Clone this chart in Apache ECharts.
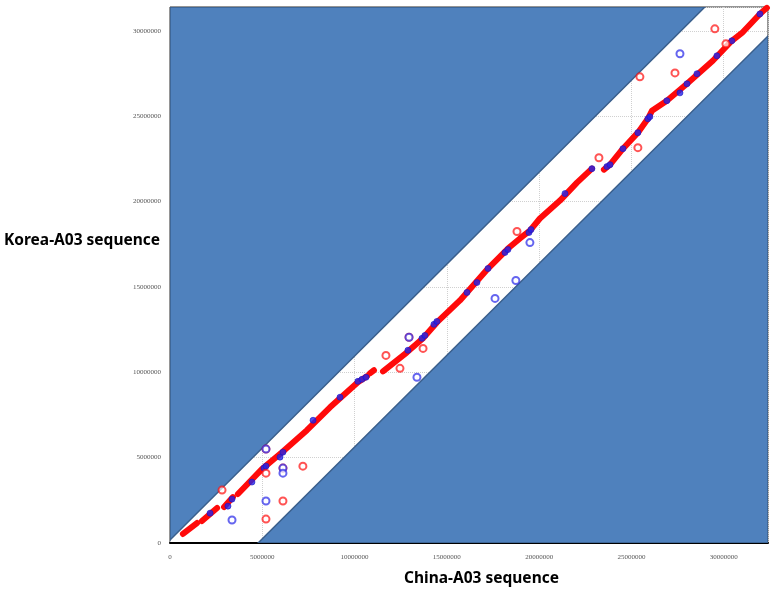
<!DOCTYPE html>
<html>
<head>
<meta charset="utf-8">
<script src="https://cdn.jsdelivr.net/npm/echarts@6/dist/echarts.min.js"></script>
<style>
html,body{margin:0;padding:0;background:#fff;}
#chart{width:772px;height:590px;}
</style>
</head>
<body>
<div id="chart"></div>
<script>
// ---- data (positions in sequence, bp) ----
var xMax = 32400000;
var yMax = 31400000;
var xTicks = [0, 5000000, 10000000, 15000000, 20000000, 25000000, 30000000];
var yTicks = [0, 5000000, 10000000, 15000000, 20000000, 25000000, 30000000];

// shaded regions outside the alignment band
var upperRegion = [[0, 175000], [0, 31400000], [28980000, 31400000]];
var lowerRegion = [[4770000, 0], [32400000, 29700000], [32400000, 0]];

// main collinear alignment (red), as separate blocks
var redBlock1 = [[700000, 530000], [1460000, 1170000]];
var redBlock2 = [[1730000, 1290000], [2550000, 2050000]];
var redBlock3 = [[2930000, 2110000], [3410000, 2690000]];
var redBlock4 = [[3680000, 2870000], [4980000, 4330000], [6070000, 5320000], [7420000, 6610000],
                 [8670000, 7950000], [10180000, 9420000], [10670000, 9770000]];
var redBlock5 = [[10830000, 9940000], [11050000, 10120000]];
var redBlock6 = [[11540000, 10060000], [12840000, 11170000], [13710000, 11990000], [14460000, 12920000],
                 [15710000, 14210000], [17230000, 16080000], [18310000, 17250000], [18960000, 17840000],
                 [19500000, 18300000], [20040000, 19010000], [21130000, 20060000], [22050000, 21110000],
                 [22860000, 21930000]];
var redBlock7 = [[23510000, 21870000], [23840000, 22160000], [24540000, 23100000], [25350000, 24040000],
                 [25890000, 24850000], [26110000, 25320000], [26920000, 25910000], [28010000, 26900000],
                 [29410000, 28250000], [30440000, 29420000], [30990000, 29880000], [31960000, 30990000],
                 [32340000, 31350000]];

// blue hits on the main alignment
var blueMain = [[2170000, 1750000], [3140000, 2160000], [3360000, 2570000], [4440000, 3570000],
                [5090000, 4390000], [5200000, 4500000], [5960000, 5030000], [6120000, 5320000],
                [7750000, 7190000], [9210000, 8540000], [10180000, 9470000], [10400000, 9590000],
                [10620000, 9710000], [12890000, 11290000], [13650000, 11990000], [13810000, 12160000],
                [14300000, 12810000], [14460000, 12980000], [16090000, 14680000], [16630000, 15260000],
                [17230000, 16080000], [18150000, 17020000], [18310000, 17190000], [19450000, 18190000],
                [19560000, 18360000], [21400000, 20470000], [22860000, 21930000], [23670000, 22050000],
                [23840000, 22160000], [24540000, 23100000], [25350000, 24040000], [25890000, 24850000],
                [26000000, 24970000], [26920000, 25910000], [27630000, 26370000], [28010000, 26900000],
                [28550000, 27490000], [29630000, 28540000], [30440000, 29420000], [31960000, 30990000]];

// scattered hits off the main alignment
var redOff = [[5200000, 5500000], [5200000, 1400000], [6120000, 2460000], [6120000, 4390000],
              [7200000, 4500000], [5200000, 4090000], [2820000, 3100000], [11700000, 10990000],
              [12460000, 10230000], [13710000, 11400000], [12950000, 12050000], [18800000, 18250000],
              [23240000, 22570000], [25350000, 23160000], [25460000, 27310000], [27360000, 27540000],
              [29520000, 30120000], [30120000, 29240000]];
var blueOff = [[5200000, 5500000], [5200000, 2460000], [6120000, 4390000], [6120000, 4090000],
               [3360000, 1350000], [13380000, 9710000], [12950000, 12050000], [17610000, 14330000],
               [18740000, 15380000], [19500000, 17600000], [27630000, 28660000]];

var RED = '#ff0a0a';
var BLUE = '#2424e8';
var FILL = '#4f81bd';
var EDGE = '#3a5f8c';

function polySeries(pts) {
  return {
    type: 'custom',
    data: [[0, 0]],
    clip: true,
    silent: true,
    z: 1,
    renderItem: function (params, api) {
      var p = pts.map(function (v) { return api.coord(v); });
      return {
        type: 'polygon',
        shape: { points: p },
        style: { fill: FILL, stroke: EDGE, lineWidth: 1.5 }
      };
    }
  };
}

var redBlocks = [redBlock1, redBlock2, redBlock3, redBlock4, redBlock5, redBlock6, redBlock7];
var series = [polySeries(upperRegion), polySeries(lowerRegion)];
redBlocks.forEach(function (b) {
  series.push({
    type: 'line', data: b, showSymbol: false, z: 3, silent: true,
    lineStyle: { color: RED, width: 6, cap: 'round', join: 'round' }
  });
});
series.push({
  type: 'scatter', data: blueMain, z: 4, symbol: 'circle', symbolSize: 6,
  itemStyle: { color: BLUE, borderColor: '#1818c8', borderWidth: 0.8 }
});
series.push({
  type: 'scatter', data: redOff, z: 4, symbol: 'emptyCircle', symbolSize: 7,
  itemStyle: { color: RED, borderColor: '#f04040', borderWidth: 0.8, opacity: 0.7 }
});
series.push({
  type: 'scatter', data: blueOff, z: 5, symbol: 'emptyCircle', symbolSize: 7,
  itemStyle: { color: BLUE, borderColor: '#4a4ae0', borderWidth: 0.8, opacity: 0.7 }
});

var tickLabel = { fontSize: 7, color: '#555', fontFamily: 'Liberation Serif' };

var chart = echarts.init(document.getElementById('chart'), null, { renderer: 'canvas' });
chart.setOption({
  animation: false,
  backgroundColor: '#ffffff',
  grid: { left: 170, right: 4, top: 7, bottom: 47, show: true, borderColor: '#2a2a2a', borderWidth: 1, backgroundColor: 'transparent' },
  xAxis: {
    type: 'value', min: 0, max: xMax, interval: 5000000,
    axisLine: { show: true, lineStyle: { color: '#000', width: 2 } },
    axisTick: { show: false },
    axisLabel: Object.assign({ margin: 11, formatter: function (v) { return xTicks.indexOf(v) >= 0 ? String(v) : ''; } }, tickLabel),
    splitLine: { show: true, lineStyle: { color: '#d0d0d0', type: 'dotted' } }
  },
  yAxis: {
    type: 'value', min: 0, max: yMax, interval: 5000000,
    axisLine: { show: false },
    axisTick: { show: false },
    axisLabel: Object.assign({ margin: 9, formatter: function (v) { return yTicks.indexOf(v) >= 0 ? String(v) : ''; } }, tickLabel),
    splitLine: { show: true, lineStyle: { color: '#d0d0d0', type: 'dotted' } }
  },
  graphic: [
    { type: 'text', left: 4, top: 233, style: { text: 'Korea-A03 sequence', font: 'bold 15.5px "Noto Sans"', fill: '#000' } },
    { type: 'text', left: 404, top: 571, style: { text: 'China-A03 sequence', font: 'bold 15.5px "Noto Sans"', fill: '#000' } }
  ],
  series: series
});
</script>
</body>
</html>
